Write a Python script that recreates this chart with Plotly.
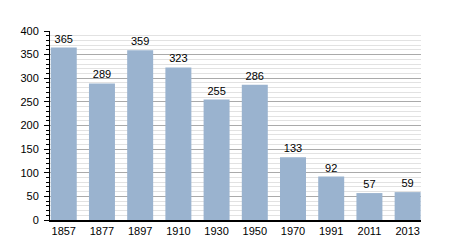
import plotly.graph_objects as go

years = ["1857", "1877", "1897", "1910", "1930", "1950", "1970", "1991", "2011", "2013"]
population = [365, 289, 359, 323, 255, 286, 133, 92, 57, 59]

fig = go.Figure(go.Bar(
    x=years, y=population,
    marker=dict(color="#9ab3cf", line=dict(width=0)),
    text=[str(v) for v in population],
    textposition="outside",
    textfont=dict(family="Liberation Sans, Arial, sans-serif", size=11, color="#000"),
    cliponaxis=False,
    width=0.68,
))

fig.update_layout(
    width=450, height=250,
    margin=dict(l=50, r=29, t=31, b=30),
    paper_bgcolor="white", plot_bgcolor="white",
    font=dict(family="Liberation Sans, Arial, sans-serif", size=11, color="#000"),
    showlegend=False,
    xaxis=dict(
        type="category", range=[-0.36, 9.35],
        showline=True, linecolor="#000", linewidth=1.5,
        ticks="", showgrid=False,
        tickfont=dict(size=11),
    ),
    yaxis=dict(
        range=[0, 400], dtick=50, tick0=0,
        showline=True, linecolor="#000", linewidth=1,
        ticks="outside", ticklen=5, tickcolor="#000",
        ticklabelstandoff=3,
        showgrid=True, gridcolor="#aaaaaa", gridwidth=1,
        zeroline=False,
        minor=dict(dtick=10, showgrid=True, gridcolor="#e2e2e2", gridwidth=1,
                   ticks="outside", ticklen=3, tickcolor="#000"),
        tickfont=dict(size=11),
    ),
)

fig.write_html("out.html")
